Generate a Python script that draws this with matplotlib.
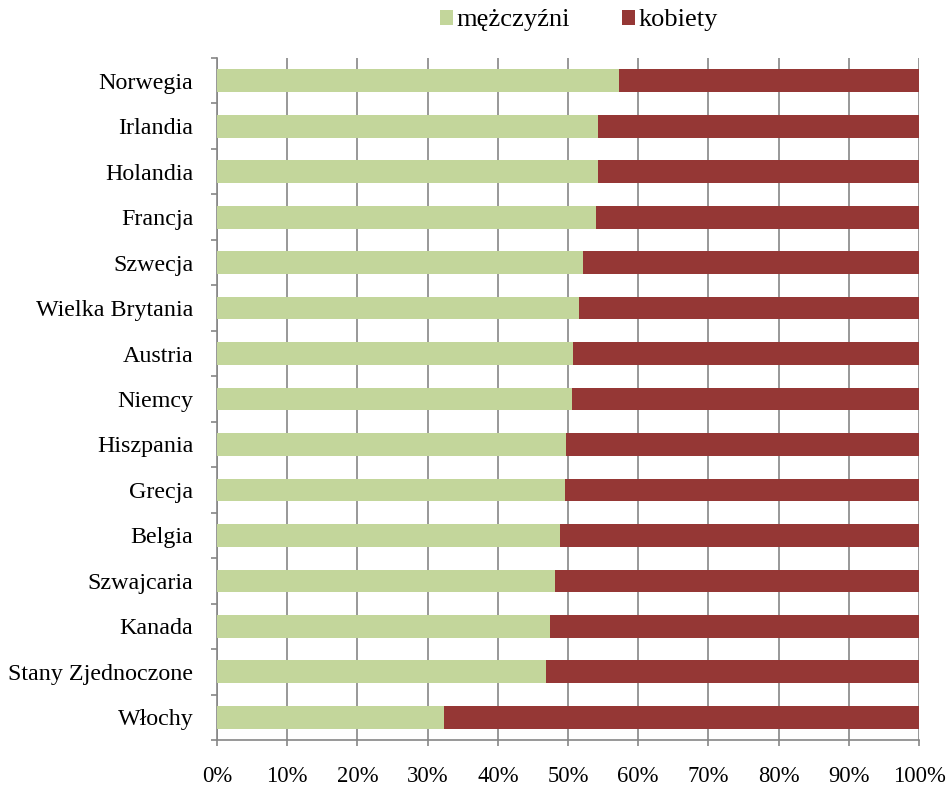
import matplotlib.pyplot as plt
from matplotlib.patches import Patch
import numpy as np

countries = ["Norwegia", "Irlandia", "Holandia", "Francja", "Szwecja",
             "Wielka Brytania", "Austria", "Niemcy", "Hiszpania", "Grecja",
             "Belgia", "Szwajcaria", "Kanada", "Stany Zjednoczone", "Włochy"]
men = [57.3, 54.3, 54.2, 54.0, 52.1, 51.6, 50.7, 50.5, 49.7, 49.5,
       48.9, 48.2, 47.4, 46.8, 32.4]
women = [100 - m for m in men]
tick_labels = ["0%", "10%", "20%", "30%", "40%", "50%", "60%", "70%", "80%", "90%", "100%"]

GREEN = "#C3D69B"
RED = "#953735"
GRID = "#868686"

plt.rcParams['font.family'] = ['Liberation Serif', 'DejaVu Serif']

fig = plt.figure(figsize=(9.49, 7.87), dpi=100)
ax = fig.add_axes([0.2287, 0.0597, 0.7397, 0.8666])

y = np.arange(len(countries))[::-1]
ax.barh(y, men, height=0.5, color=GREEN, zorder=3)
ax.barh(y, women, left=men, height=0.5, color=RED, zorder=3)

ax.set_xlim(0, 100)
ax.set_ylim(-0.5, len(countries) - 0.5)
ax.set_xticks(np.arange(0, 101, 10))
ax.set_xticklabels(tick_labels, fontsize=16.3)
ax.set_yticks(y)
ax.set_yticklabels(countries, fontsize=17.3)
ax.set_yticks(np.arange(-0.5, len(countries)), minor=True)

ax.grid(axis='x', color=GRID, linewidth=1.2, zorder=0)
for s in ['top', 'right']:
    ax.spines[s].set_visible(False)
for s in ['left', 'bottom']:
    ax.spines[s].set_color(GRID)
    ax.spines[s].set_linewidth(1.2)

ax.tick_params(axis='y', which='major', length=0, pad=17)
ax.tick_params(axis='y', which='minor', length=4.5, width=1.2, color=GRID)
ax.tick_params(axis='x', length=4.5, width=1.2, color=GRID, pad=14)

handles = [Patch(facecolor=GREEN, label="mężczyźni"),
           Patch(facecolor=RED, label="kobiety")]
fig.legend(handles=handles, loc='center', bbox_to_anchor=(0.610, 0.974), ncol=2,
           frameon=False, fontsize=19, handlelength=0.5, handleheight=0.5,
           handletextpad=0.12, columnspacing=1.97, borderpad=0, borderaxespad=0)

fig.savefig("out.png", dpi=100)
